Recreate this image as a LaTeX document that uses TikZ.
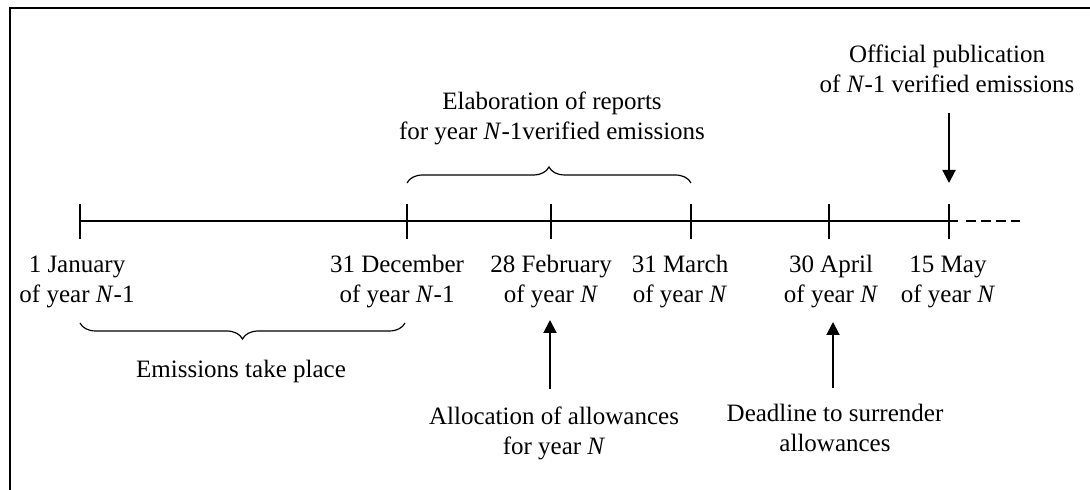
\documentclass[tikz,border=0pt]{standalone}
\usepackage{fontspec}
\setmainfont{Liberation Serif}
\usetikzlibrary{decorations.pathreplacing,arrows.meta}

\begin{document}
\begin{tikzpicture}
    [
    x=0.5pt, y=0.5pt,
    every node/.style={font=\fontsize{12.5}{15}\selectfont, align=center, inner sep=0pt},
    timeline/.style={draw, line width=1pt},
    datetick/.style={draw, line width=1pt},
    arr/.style={draw, line width=1pt, -{Triangle[length=6.5pt,width=6.5pt]}},
    brace/.style={draw, line width=0.6pt, decorate, decoration={brace, amplitude=8pt}}
    ]
    \useasboundingbox (0,0) rectangle (1090,490);

    % frame
    \draw[line width=1.3pt] (10,0) -- (10,482) -- (1090,482);

    % time line
    \draw[timeline] (80,269) -- (958,269);
    \draw[timeline, dash pattern=on 5pt off 2.5pt] (966,269) -- (1020,269);
    \foreach \t in {80,407,551,691,829,949}
        \draw[datetick] (\t,286) -- (\t,251);

    % dates
    \node (jan) at (77,208) {1 January\\of year \textit{N}-1};
    \node (dec) at (397,208) {31 December\\of year \textit{N}-1};
    \node (feb) at (551,208) {28 February\\of year \textit{N}};
    \node (mar) at (680,208) {31 March\\of year \textit{N}};
    \node (apr) at (831,208) {30 April\\of year \textit{N}};
    \node (may) at (948,208) {15 May\\of year \textit{N}};

    % periods
    \draw[brace] (407,307) -- (691,307);
    \node (report) at (552,372) {Elaboration of reports\\for year \textit{N}-1verified emissions};
    \draw[brace] (405,167) -- (80,167);
    \node (emit) at (241,119) {Emissions take place};

    % events
    \node (publish) at (947,421) {Official publication\\of \textit{N}-1 verified emissions};
    \node (alloc) at (554,57) {Allocation of allowances\\for year \textit{N}};
    \node (surrender) at (835,62) {Deadline to surrender\\allowances};
    \coordinate (feb-tip) at (550,170);
    \coordinate (apr-tip) at (833,168);
    \coordinate (may-tip) at (949,307);
    \draw[arr] (550,101) -- (feb-tip);
    \draw[arr] (833,102) -- (apr-tip);
    \draw[arr] (949,377) -- (may-tip);
\end{tikzpicture}
\end{document}
